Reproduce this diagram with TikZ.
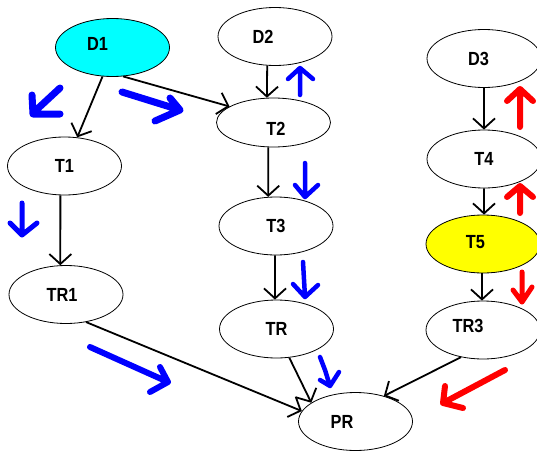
\documentclass[tikz,border=0pt]{standalone}
\usepackage{fontspec}
\setmainfont{Liberation Sans}
\usetikzlibrary{arrows.meta,shapes.geometric}
% condensed bold caption inside a state
\newcommand\statetext[1]{\scalebox{0.86}[1]{\fontsize{19}{19}\selectfont\bfseries #1}}
\begin{document}
\begin{tikzpicture}[x=1pt,y=-1pt,
  state/.style={ellipse,draw=black,line width=0.8pt,minimum width=114pt,
    minimum height=58pt,inner sep=0pt},
  flatstate/.style={state,minimum height=49pt},
  link/.style={draw=black,line width=1.8pt,
    -{Straight Barb[length=10pt,width=22pt,line width=1.8pt]}},
  bluemark/.style={draw={rgb,255:red,0;green,0;blue,255},line cap=round,line join=round},
  redmark/.style={draw={rgb,255:red,255;green,0;blue,0},line cap=round,line join=round}
]
\useasboundingbox (0,0) rectangle (537,452);
\clip (0,0) rectangle (537,452);

% states
\node[state,fill={rgb,255:red,0;green,255;blue,255},
  label={[xshift=-15pt,yshift=4pt]center:\statetext{D1}}] (D1) at (112.5,47.5) {};
\node[state,label={[xshift=-12pt]center:\statetext{D2}}] (D2) at (275,36.5) {};
\node[flatstate,label={[xshift=2.5pt,yshift=-6pt]center:\statetext{T2}}] (T2) at (273.5,122.5) {};
\node[state,label={center:\statetext{T3}}] (T3) at (276,226) {};
\node[state,label={center:\statetext{TR}}] (TR) at (276.5,329) {};
\node[state,label={[xshift=-13.5pt]center:\statetext{PR}}] (PR) at (355.5,421.5) {};
\node[state,label={center:\statetext{T1}}] (T1) at (64.5,166) {};
\node[state,label={[xshift=-4pt]center:\statetext{TR1}}] (TR1) at (66,294.5) {};
\node[state,label={[xshift=-5.5pt]center:\statetext{D3}}] (D3) at (484,58.5) {};
\node[state,label={center:\statetext{T4}}] (T4) at (484,159) {};
\node[state,fill={rgb,255:red,255;green,255;blue,0},
  label={[xshift=-7.5pt,yshift=2pt]center:\statetext{T5}}] (T5) at (483,244) {};
\node[state,label={[xshift=-15pt,yshift=4pt]center:\statetext{TR3}}] (TR3) at (483,330) {};

% dependencies
\draw[link] (D1.-109.6) -- (T1.66.7);
\draw[link] (D1.-70.4) -- (T2.160.3);
\draw[link] (D2.-105.8) -- (T2.105);
\draw[link] (T2.-102.7) -- (T3.105.6);
\draw[link] (T3.-92) -- (TR.93);
\draw[link] (T1.-98.9) -- (TR1.101.6);
\draw[link] (TR1.-54) -- (PR.169.5);
\draw[link] (TR.-66.7) -- (PR.157);
\draw[link] (D3.south) -- (T4.north);
\draw[link] (T4.south) -- (T5.88);
\draw[link] (T5.-92) -- (TR3.92);
\draw[link] (TR3.-129.4) -- (PR.42.8);

% blue direction marks
\draw[bluemark,line width=7pt] (60,88) -- (33,113) (32,95) -- (33,114) -- (60,114);
\draw[bluemark,line width=7pt] (122,92) -- (180,110) (170,98) -- (180,110) -- (155,121);
\draw[bluemark,line width=5pt] (22,203) -- (22,235) (10,223) -- (22,235) -- (37,223);
\draw[bluemark,line width=4.5pt] (300,95) -- (300,68) (288,79) -- (300,68) -- (313,79);
\draw[bluemark,line width=4.5pt] (305,163) -- (305,197) (295,185) -- (305,197) -- (318,185);
\draw[bluemark,line width=4.5pt] (303,262) -- (305,297) (293,284) -- (305,297) -- (318,285);
\draw[bluemark,line width=4.5pt] (320,357) -- (325,370) -- (330,386) (320,380) -- (330,386) -- (339,372);
\draw[bluemark,line width=6pt] (90,347) -- (168,382) (160,367) -- (168,382) -- (150,392);

% red direction marks
\draw[redmark,line width=6pt] (520,127) -- (520,90) (507,101) -- (520,89) -- (533,101);
\draw[redmark,line width=6pt] (520,213) -- (520,187) (507,197) -- (520,186) -- (533,197);
\draw[redmark,line width=5pt] (522,272) -- (522,302) (513,290) -- (522,302) -- (532,287);
\draw[redmark,line width=6pt] (505,370) -- (443,403) (445,386) -- (443,403) -- (463,408);
\end{tikzpicture}
\end{document}
